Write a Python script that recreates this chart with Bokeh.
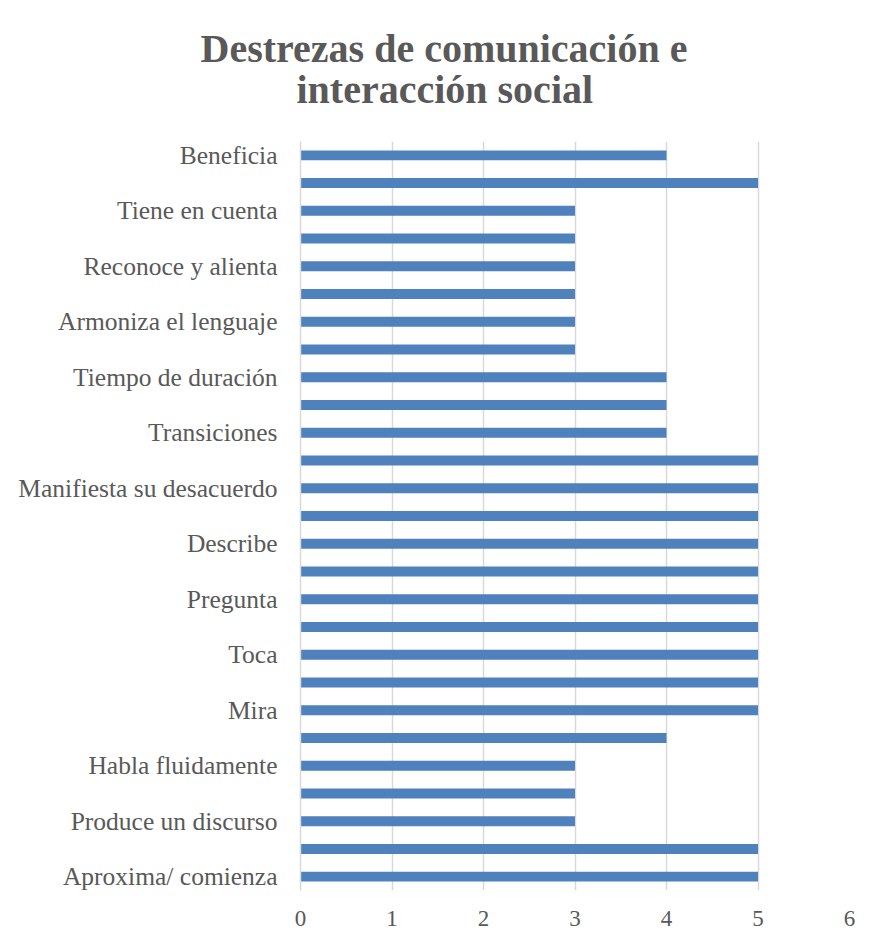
from bokeh.plotting import figure
from bokeh.models import FixedTicker, Range1d, Title
from bokeh.embed import file_html
from bokeh.resources import INLINE

# Categories from bottom to top; "" = category whose label Excel skipped
categories = ["Aproxima/ comienza", "", "Produce un discurso", "", "Habla fluidamente", "",
              "Mira", "", "Toca", "", "Pregunta", "", "Describe", "",
              "Manifiesta su desacuerdo", "", "Transiciones", "", "Tiempo de duración", "",
              "Armoniza el lenguaje", "", "Reconoce y alienta", "", "Tiene en cuenta", "",
              "Beneficia"]
values = [5, 5, 3, 3, 3, 4, 5, 5, 5, 5, 5, 5, 5, 5, 5, 5, 4, 4, 4, 3, 3, 3, 3, 3, 3, 5, 4]
x_ticks = [0, 1, 2, 3, 4, 5, 6]
title_lines = ["Destrezas de comunicación e", "interacción social"]

positions = list(range(len(categories)))
label_pos = [i for i, c in enumerate(categories) if c]
overrides = {i: categories[i] for i in label_pos}

TXT = "#595959"
GRID = "#d9d9d9"
FONT = "Liberation Serif"

p = figure(width=869, height=933, output_backend="svg", toolbar_location=None,
           x_range=Range1d(0, 6), y_range=Range1d(-0.5, len(categories) - 0.5),
           min_border_left=300, min_border_right=20, min_border_bottom=43, min_border_top=141)
p.title = None

p.hbar(y=positions, right=values, left=0, height=0.36, fill_color="#4F81BD", line_color=None)

# titles (first added sits closest to plot)
p.add_layout(Title(text=title_lines[1], align="left", text_font=FONT,
                   text_font_size="40px", text_font_style="bold", text_color=TXT,
                   standoff=60, offset=-4), "above")
p.add_layout(Title(text=title_lines[0], align="left", text_font=FONT,
                   text_font_size="40px", text_font_style="bold", text_color=TXT,
                   standoff=-72, offset=-100), "above")

p.outline_line_color = None
p.ygrid.visible = False
p.xgrid.ticker = FixedTicker(ticks=x_ticks)
p.xgrid.grid_line_color = GRID
p.xgrid.grid_line_width = 1.5

p.xaxis.ticker = FixedTicker(ticks=x_ticks)
p.xaxis.axis_line_color = None
p.xaxis.major_tick_line_color = None
p.xaxis.minor_tick_line_color = None
p.xaxis.major_label_text_font = FONT
p.xaxis.major_label_text_font_size = "23px"
p.xaxis.major_label_text_color = TXT
p.xaxis.major_label_standoff = 14

p.yaxis.ticker = FixedTicker(ticks=label_pos)
p.yaxis.major_label_overrides = overrides
p.yaxis.axis_line_color = GRID
p.yaxis.axis_line_width = 1.5
p.yaxis.major_tick_line_color = None
p.yaxis.minor_tick_line_color = None
p.yaxis.major_label_text_font = FONT
p.yaxis.major_label_text_font_size = "25.5px"
p.yaxis.major_label_text_color = TXT
p.yaxis.major_label_standoff = 17

open("out.html", "w").write(file_html(p, INLINE))
